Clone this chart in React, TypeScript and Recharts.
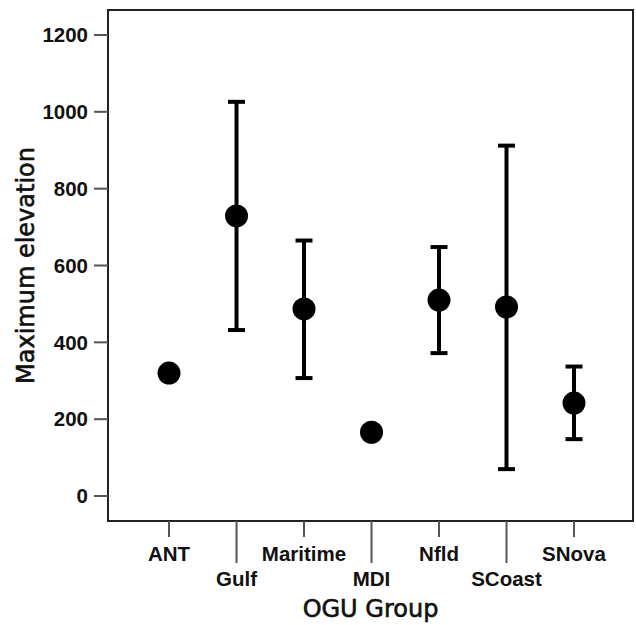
import {
  ComposedChart,
  ErrorBar,
  ReferenceArea,
  Scatter,
  XAxis,
  YAxis,
} from "recharts";

const categories = ["ANT", "Gulf", "Maritime", "MDI", "Nfld", "SCoast", "SNova"];
const means = [320, 729, 487, 166, 510, 492, 242];
const lowerBounds = [320, 432, 307, 166, 372, 70, 148];
const upperBounds = [320, 1026, 665, 166, 648, 912, 337];
const yTicks = [0, 200, 400, 600, 800, 1000, 1200];

const xDomain: [number, number] = [0.096, 7.874];
const yDomain: [number, number] = [-65, 1265];

const data = categories.map((name, i) => ({
  pos: i + 1,
  name,
  mean: means[i],
  err: [means[i] - lowerBounds[i], upperBounds[i] - means[i]],
}));

const tickFont = '"Liberation Sans", Arial, sans-serif';
const titleFont = '"DejaVu Sans", Verdana, sans-serif';

function CategoryTick({ x, y, payload }: { x?: number; y?: number; payload?: { value: number } }) {
  if (x == null || y == null || !payload) return null;
  const idx = payload.value - 1;
  const lowRow = idx % 2 === 1;
  return (
    <g>
      <line x1={x} x2={x} y1={y} y2={y + (lowRow ? 42 : 16)} stroke="#555" strokeWidth={2} />
      <text
        x={x}
        y={y + (lowRow ? 65 : 40)}
        textAnchor="middle"
        fontFamily={tickFont}
        fontWeight="bold"
        fontSize={20.5}
        fill="#111"
      >
        {categories[idx]}
      </text>
    </g>
  );
}

function Dot(props: { cx?: number; cy?: number }) {
  if (props.cx == null || props.cy == null) return null;
  return <circle cx={props.cx} cy={props.cy} r={11.5} fill="#000" />;
}

const titleStyle = {
  fontFamily: titleFont,
  fontSize: 24,
  fill: "#111",
  stroke: "#111",
  strokeWidth: 0.6,
};

export default function App() {
  return (
    <div style={{ position: "absolute", left: 0, top: 0, background: "#fff" }}>
      <ComposedChart
        width={636}
        height={625}
        data={data}
        margin={{ top: 10, right: 3, bottom: 0, left: 0 }}
      >
        <ReferenceArea
          x1={xDomain[0]}
          x2={xDomain[1]}
          y1={yDomain[0]}
          y2={yDomain[1]}
          fill="none"
          stroke="#222"
          strokeWidth={2}
          fillOpacity={0}
          strokeOpacity={1}
          ifOverflow="visible"
        />
        <XAxis
          dataKey="pos"
          type="number"
          domain={xDomain}
          allowDataOverflow
          ticks={[1, 2, 3, 4, 5, 6, 7]}
          height={104}
          tickSize={0}
          tickMargin={0}
          tickLine={false}
          tick={<CategoryTick />}
          axisLine={{ stroke: "#222", strokeWidth: 2 }}
          label={{
            value: "OGU Group",
            position: "insideBottom",
            offset: 8,
            style: titleStyle,
          }}
        />
        <YAxis
          type="number"
          domain={yDomain}
          allowDataOverflow
          ticks={yTicks}
          width={108}
          tickSize={14}
          tickMargin={6}
          tickLine={{ stroke: "#555", strokeWidth: 2 }}
          axisLine={{ stroke: "#222", strokeWidth: 2 }}
          tick={{ fontFamily: tickFont, fontWeight: "bold", fontSize: 20.5, fill: "#111" }}
          label={{
            value: "Maximum elevation",
            angle: -90,
            position: "insideLeft",
            offset: 25,
            style: { ...titleStyle, textAnchor: "middle" },
          }}
        />
        <Scatter dataKey="mean" shape={<Dot />} isAnimationActive={false}>
          <ErrorBar dataKey="err" direction="y" width={8.5} strokeWidth={4} stroke="#000" />
        </Scatter>
      </ComposedChart>
    </div>
  );
}
